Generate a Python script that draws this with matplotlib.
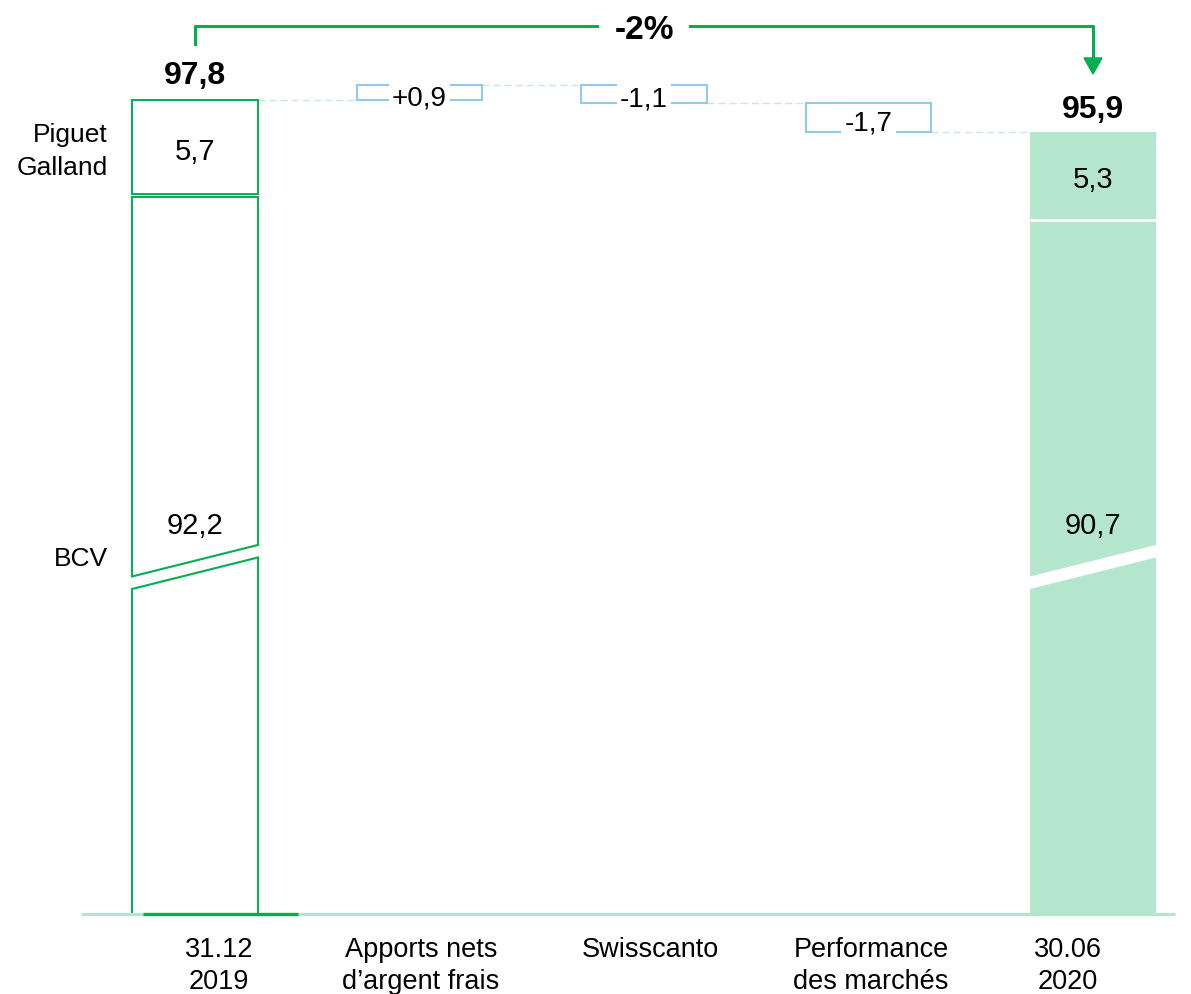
import numpy as np
import matplotlib
matplotlib.use('Agg')
import matplotlib.pyplot as plt
from matplotlib import transforms
from matplotlib.patches import Polygon

# ---------------- data ----------------
categories = ["31.12\n2019", "Apports nets\nd\u2019argent frais", "Swisscanto",
              "Performance\ndes march\u00e9s", "30.06\n2020"]
segment_names = ["Piguet\nGalland", "BCV"]
start_pg, start_bcv, start_total = 5.7, 92.2, 97.8
end_pg, end_bcv, end_total = 5.3, 90.7, 95.9
deltas = [0.9, -1.1, -1.7]
change_label = "-2%"

# ---------------- style ----------------
FONT = ['Liberation Sans', 'DejaVu Sans']
plt.rcParams['font.family'] = FONT
GREEN = '#00b050'
MINT = '#b3e6cc'
BLUE = '#8fcbef'
DASH = '#c4ead8'


def fmt(v, sign=False):
    s = f"{v:+.1f}" if sign else f"{v:.1f}"
    return s.replace('.', ',')


# broken value axis: linear above the break, compressed below it
OFF = 49.06
BRK = 69.84
LOW = (BRK - OFF) / BRK


def fwd(v):
    v = np.asarray(v, dtype=float)
    return np.where(v >= BRK, v - OFF, v * LOW)


def inv(s):
    s = np.asarray(s, dtype=float)
    return np.where(s >= BRK - OFF, s + OFF, s / LOW)


W, H = 1191, 995
fig = plt.figure(figsize=(W / 100, H / 100), dpi=100)
base_px = 915
ax = fig.add_axes([0, (H - base_px) / H, 1, base_px / H])
ax.set_axis_off()
ax.set_yscale('function', functions=(fwd, inv))
step, c0 = 224.5, 195
ax.set_xlim(-c0 / step, (W - c0) / step)
top_scaled = base_px / 16.7
ax.set_ylim(0, float(inv(top_scaled)))

x = np.arange(len(categories))
bw = 0.561
gap = 0.2

# ---- first bar (outlined, two segments)
b1_split = start_total - start_pg
ax.bar(x[0], b1_split - gap / 2, bottom=0, width=bw, facecolor='none',
       edgecolor=GREEN, lw=1.4, zorder=2)
ax.bar(x[0], start_pg - gap / 2, bottom=b1_split + gap / 2, width=bw,
       facecolor='none', edgecolor=GREEN, lw=1.4, zorder=2)

# ---- last bar (filled, two segments)
e_split = end_total - end_pg
ax.bar(x[4], e_split, bottom=0, width=bw, color=MINT, lw=0, zorder=2)
ax.bar(x[4], end_pg, bottom=e_split, width=bw, color=MINT, lw=0, zorder=2)
ax.plot([x[4] - bw / 2, x[4] + bw / 2], [e_split, e_split], color='white',
        lw=2, zorder=3, solid_capstyle='butt')

# ---- delta boxes
levels = start_total + np.cumsum(deltas)
prev = np.concatenate([[start_total], levels[:-1]])
lo = np.minimum(prev, levels)
hi = np.maximum(prev, levels)
ax.bar(x[1:4], hi - lo, bottom=lo, width=bw, facecolor='none',
       edgecolor=BLUE, lw=1.5, zorder=2)
for xi, l, h, d in zip(x[1:4], lo, hi, deltas):
    ax.annotate(fmt(d, sign=True), xy=(xi, (l + h) / 2), xytext=(0, -1.1),
                textcoords='offset points', ha='center', va='center_baseline',
                fontsize=20, zorder=4,
                bbox=dict(boxstyle='square,pad=0.12', fc='white', ec='none'))

# ---- dashed connectors
conn_levels = np.concatenate([[start_total], levels])
for xa, xb, lv in zip(x[:-1] + bw / 2, x[1:] - bw / 2, conn_levels):
    ax.plot([xa, xb], [lv, lv], color=DASH, lw=1, ls=(0, (5, 3)), zorder=1)

# ---- axis-break marks
blend = transforms.blended_transform_factory(ax.transData, ax.transAxes)
yc = float(fwd(BRK)) / top_scaled
s = 15.75 / base_px
t = 6.25 / base_px
ex = 0.02
for i in (0, 4):
    L, R = x[i] - bw / 2, x[i] + bw / 2
    se = s * (1 + 2 * ex / bw)
    poly = Polygon([(L - ex, yc - se - t), (R + ex, yc + se - t),
                    (R + ex, yc + se + t), (L - ex, yc - se + t)],
                   closed=True, fc='white', ec='none', transform=blend, zorder=3)
    ax.add_patch(poly)
    if i == 0:
        ax.plot([L, R], [yc - s + t, yc + s + t], color=GREEN, lw=1.5,
                transform=blend, zorder=4)
        ax.plot([L, R], [yc - s - t, yc + s - t], color=GREEN, lw=1.5,
                transform=blend, zorder=4)

# ---- base line
ax.plot([(81 - c0) / step, (1175 - c0) / step], [0, 0], color=MINT, lw=2.2,
        zorder=5, clip_on=False, solid_capstyle='butt')
ax.plot([(143 - c0) / step, (298 - c0) / step], [0, 0], color=GREEN, lw=2.4,
        zorder=6, clip_on=False, solid_capstyle='butt')

# ---- change bracket
yb = 102.23
ax.plot([x[0], x[0], x[4], x[4]], [101.15, yb, yb, 100.3], color=GREEN,
        lw=2.2, zorder=5, clip_on=False)
ax.add_patch(Polygon([(x[4] - 0.04, 100.32), (x[4] + 0.04, 100.32), (x[4], 99.36)],
                     closed=True, color=GREEN, zorder=5))
ax.text(x[2], yb, change_label, ha='center', va='center_baseline', fontsize=24,
        fontweight='bold', zorder=6,
        bbox=dict(boxstyle='square,pad=0.45', fc='white', ec='none'))

# ---- totals
for xi, tot, off in [(x[0], start_total, 12), (x[4], end_total, 10.8)]:
    ax.annotate(fmt(tot), xy=(xi, tot), xytext=(0, off), textcoords='offset points',
                ha='center', va='baseline', fontsize=23, fontweight='bold')

# ---- segment values
bcv_label_at = 72.53
for xi, tot, pg, bcv in [(x[0], start_total, start_pg, start_bcv),
                         (x[4], end_total, end_pg, end_bcv)]:
    ax.text(xi, tot - pg / 2, fmt(pg), ha='center', va='center_baseline',
            fontsize=21, zorder=6)
    ax.text(xi, bcv_label_at, fmt(bcv), ha='center', va='center_baseline',
            fontsize=21, zorder=6)

# ---- segment names
x_side = (108 - c0) / step
ax.annotate(segment_names[0], xy=(x_side, start_total - start_pg / 2),
            xytext=(0, -2.2), textcoords='offset points', ha='right',
            va='center', multialignment='right', fontsize=19, linespacing=1.45)
ax.text(x_side, 70.55, segment_names[1], ha='right', va='center_baseline',
        fontsize=19)

# ---- category labels
lab_off = [0.107, 0.007, 0.027, 0.011, -0.111]
for xi, lab, o in zip(x, categories, lab_off):
    ax.annotate(lab, xy=(xi + o, 0), xytext=(0, -16.0), textcoords='offset points',
                ha='center', va='top', multialignment='center', fontsize=19.5,
                linespacing=1.3, annotation_clip=False)

fig.savefig('out.png', dpi=100)
